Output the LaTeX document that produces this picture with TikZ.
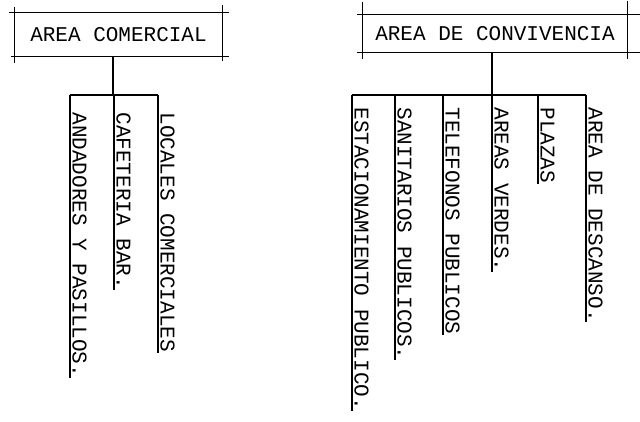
\documentclass[tikz,border=0pt]{standalone}
\usepackage{fontspec}
\setmonofont{Liberation Mono}
\begin{document}
\begin{tikzpicture}[x=1pt,y=-1pt,
  font=\ttfamily\fontsize{21}{24}\selectfont,
  line width=1.1pt,
  hdr/.style={inner sep=0pt, anchor=center},
  lbl/.style={rotate=-90, anchor=base west, inner sep=0pt}]
\useasboundingbox[fill=white] (0,0) rectangle (640,422);

% ---------- AREA COMERCIAL ----------
\node[hdr, minimum width=207pt, minimum height=43pt] (com) at (118.5,34.5) {AREA COMERCIAL};
\draw ([xshift=-5pt]com.north west) -- ([xshift=6pt]com.north east);
\draw ([xshift=-3pt]com.south west) -- ([xshift=6pt]com.south east);
\draw ([yshift=5pt]com.north west) -- ([yshift=-6pt]com.south west);
\draw ([yshift=7pt]com.north east) -- ([yshift=-4pt]com.south east);

\coordinate (cj) at (113,95);
\coordinate (c1) at (70,95);
\coordinate (c2) at (114,95);
\coordinate (c3) at (158,95);
\draw (com.south -| cj) -- (cj);
\draw (c1) -- (c3);

\node[lbl] (ca) at (72.5,112) {ANDADORES Y PASILLOS.};
\node[lbl] (cb) at (116.5,112) {CAFETERIA BAR.};
\node[lbl] (cc) at (160.5,112) {LOCALES COMERCIALES};
\draw (c1) -- (c1 |- ca.east);
\draw (c2) -- (c2 |- cb.east);
\draw (c3) -- (c3 |- cc.east);

% ---------- AREA DE CONVIVENCIA ----------
\node[hdr, minimum width=264pt, minimum height=37pt] (conv) at (495,33.5) {AREA DE CONVIVENCIA};
\draw ([xshift=-5pt]conv.north west) -- ([xshift=13pt]conv.north east);
\draw ([xshift=-5pt]conv.south west) -- ([xshift=13pt]conv.south east);
\draw ([yshift=12pt]conv.north west) -- ([yshift=-6pt]conv.south west);
\draw ([yshift=13pt]conv.north east) -- ([yshift=-6pt]conv.south east);

\coordinate (vj) at (492,95);
\coordinate (v1) at (352,95);
\coordinate (v2) at (395,95);
\coordinate (v3) at (443,95);
\coordinate (v4) at (492,95);
\coordinate (v5) at (538,95);
\coordinate (v6) at (586,95);
\draw (conv.south -| vj) -- (vj);
\draw (v1) -- (v6);

\node[lbl] (va) at (354.5,107) {ESTACIONAMIENTO PUBLICO.};
\node[lbl] (vb) at (397.5,107) {SANITARIOS PUBLICOS.};
\node[lbl] (vc) at (445.5,107) {TELEFONOS PUBLICOS};
\node[lbl] (vd) at (494.5,107) {AREAS VERDES.};
\node[lbl] (ve) at (540.5,107) {PLAZAS};
\node[lbl] (vf) at (588.5,107) {AREA DE DESCANSO.};
\draw (v1) -- (v1 |- va.east);
\draw (v2) -- (v2 |- vb.east);
\draw (v3) -- (v3 |- vc.east);
\draw (v4) -- (v4 |- vd.east);
\draw (v5) -- (v5 |- ve.east);
\draw (v6) -- (v6 |- vf.east);
\end{tikzpicture}
\end{document}
